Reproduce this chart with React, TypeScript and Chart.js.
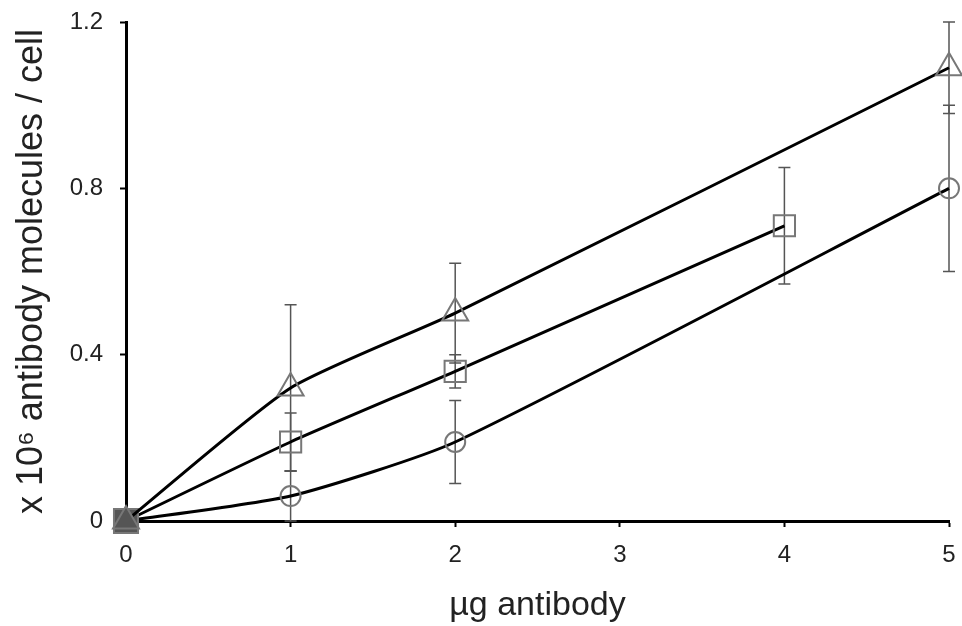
import React, { useEffect, useRef } from "react";
import { Chart, registerables } from "chart.js";

Chart.register(...registerables);

const triangleX = [0, 1, 2, 5];
const triangleY = [0, 0.32, 0.5, 1.09];
const triangleErr = [0, 0.2, 0.12, 0.11];

const squareX = [0, 1, 2, 4];
const squareY = [0, 0.19, 0.36, 0.71];
const squareErr = [0, 0.07, 0.04, 0.14];

const circleX = [0, 1, 2, 5];
const circleY = [0, 0.06, 0.19, 0.8];
const circleErr = [0, 0.06, 0.1, 0.2];

const xTicks = [0, 1, 2, 3, 4, 5];
const yTicks = [0, 0.4, 0.8, 1.2];

const xTitle = "µg antibody";
const yTitle = "x 10⁶ antibody molecules / cell";

const errors = [triangleErr, squareErr, circleErr];

const FONT = "Liberation Sans, Arial, sans-serif";
const CLEAR = "rgba(0,0,0,0)";

const errorBarPlugin = {
  id: "errorBars",
  beforeDatasetsDraw(chart: any) {
    const ctx = chart.ctx;
    const xs = chart.scales.x;
    const ys = chart.scales.y;
    ctx.save();
    ctx.strokeStyle = "#555";
    ctx.lineWidth = 1.5;
    chart.data.datasets.forEach((ds: any, i: number) => {
      const errs = errors[i];
      ds.data.forEach((p: any, j: number) => {
        const e = errs[j];
        if (!e) return;
        const px = xs.getPixelForValue(p.x);
        const top = ys.getPixelForValue(p.y + e);
        const bot = ys.getPixelForValue(p.y - e);
        ctx.beginPath();
        ctx.moveTo(px, top);
        ctx.lineTo(px, bot);
        ctx.moveTo(px - 6, top);
        ctx.lineTo(px + 6, top);
        ctx.moveTo(px - 6, bot);
        ctx.lineTo(px + 6, bot);
        ctx.stroke();
      });
    });
    ctx.restore();
  },
};

function mk(xs: number[], ys: number[]) {
  return xs.map((x, i) => ({ x, y: ys[i] }));
}

export default function App() {
  const ref = useRef<HTMLCanvasElement | null>(null);
  useEffect(() => {
    document.body.style.margin = "0";
    if (!ref.current) return;
    const common = {
      borderColor: "#000",
      borderWidth: 3,
      pointBorderColor: "#777",
      pointBorderWidth: 2,
      backgroundColor: CLEAR,
      tension: 0.2,
      clip: false as any,
      fill: false,
    };
    const chart = new Chart(ref.current, {
      type: "line",
      data: {
        datasets: [
          {
            ...common,
            label: "triangle",
            data: mk(triangleX, triangleY),
            pointStyle: "triangle",
            pointRadius: 15,
            pointBackgroundColor: ["#555", CLEAR, CLEAR, CLEAR],
          },
          {
            ...common,
            label: "square",
            data: mk(squareX, squareY),
            pointStyle: "rect",
            pointRadius: [17, 15, 15, 15],
            pointBackgroundColor: ["#555", CLEAR, CLEAR, CLEAR],
          },
          {
            ...common,
            label: "circle",
            data: mk(circleX, circleY),
            pointStyle: "circle",
            pointRadius: 10,
            pointBackgroundColor: ["#555", CLEAR, CLEAR, CLEAR],
          },
        ],
      },
      options: {
        responsive: false,
        animation: false,
        layout: { autoPadding: false, padding: { top: 22, right: 13, left: 0, bottom: 0 } },
        plugins: { legend: { display: false }, tooltip: { enabled: false } },
        scales: {
          x: {
            type: "linear",
            min: 0,
            max: 5,
            afterBuildTicks: (s: any) => {
              s.ticks = xTicks.map((v) => ({ value: v }));
            },
            afterFit: (s: any) => {
              s.height = 105;
              s.paddingLeft = 0;
              s.paddingRight = 0;
            },
            grid: { drawOnChartArea: false, tickLength: 6, tickColor: "#000", tickWidth: 2 },
            border: { color: "#000", width: 3 },
            ticks: {
              color: "#222",
              padding: 14,
              font: { family: FONT, size: 24 },
            },
            title: {
              display: true,
              text: xTitle,
              color: "#222",
              padding: { top: 0, bottom: 0 },
              font: { family: FONT, size: 34 },
            },
          },
          y: {
            type: "linear",
            min: 0,
            max: 1.2,
            afterBuildTicks: (s: any) => {
              s.ticks = yTicks.map((v) => ({ value: v }));
            },
            afterFit: (s: any) => {
              s.width = 126;
              s.paddingTop = 0;
              s.paddingBottom = 0;
            },
            grid: { drawOnChartArea: false, tickLength: 6, tickColor: "#000", tickWidth: 2 },
            border: { color: "#000", width: 3 },
            ticks: {
              color: "#222",
              padding: 17,
              font: { family: FONT, size: 24 },
              callback: (v: any) => (v === 0 ? "0" : Number(v).toFixed(1)),
            },
            title: {
              display: true,
              text: yTitle,
              color: "#222",
              padding: { top: 10, bottom: 0 },
              font: { family: FONT, size: 36 },
            },
          },
        },
      },
      plugins: [errorBarPlugin],
    } as any);
    return () => chart.destroy();
  }, []);
  return (
    <div style={{ position: "absolute", left: 0, top: 0, width: 962, height: 626, background: "#fff" }}>
      <canvas ref={ref} width={962} height={626} />
    </div>
  );
}
